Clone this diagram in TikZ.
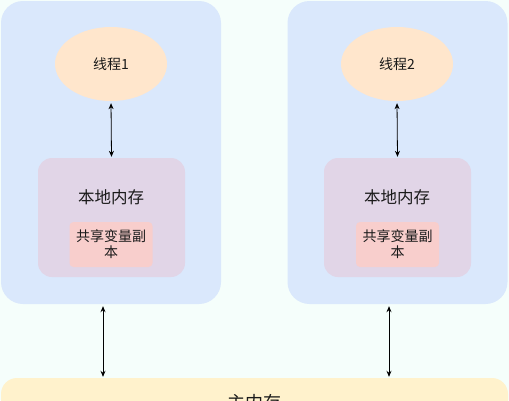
\documentclass[tikz,border=0pt]{standalone}
\usepackage{fontspec}
\setmainfont{Noto Sans CJK SC}
\usetikzlibrary{shapes.geometric,arrows.meta}
\definecolor{bgc}{HTML}{F5FEFB}
\definecolor{outerc}{HTML}{DAE8FC}
\definecolor{threadc}{HTML}{FFE6CC}
\definecolor{localc}{HTML}{E1D5E7}
\definecolor{sharec}{HTML}{F8CECC}
\definecolor{memc}{HTML}{FFF2CC}
\definecolor{txtc}{HTML}{1A1A1A}
\tikzset{
  outerbox/.style={draw=none,fill=outerc,rounded corners=22pt,minimum width=220pt,minimum height=303pt,inner sep=0pt},
  threadnode/.style={ellipse,draw=none,fill=threadc,minimum width=112pt,minimum height=74pt,inner sep=0pt,font=\fontsize{14pt}{17pt}\selectfont,text=txtc},
  localbox/.style={draw=none,fill=localc,rounded corners=14pt,minimum width=147pt,minimum height=119pt,inner sep=0pt},
  localtxt/.style={font=\fontsize{16.5pt}{20pt}\selectfont,text=txtc,inner sep=0pt},
  sharebox/.style={draw=none,fill=sharec,rounded corners=4pt,minimum width=83pt,minimum height=45pt,inner sep=0pt,align=center,font=\fontsize{14pt}{17pt}\selectfont,text=txtc},
  membox/.style={draw=none,fill=memc,rounded corners=16pt,minimum width=507pt,minimum height=50pt,inner sep=0pt,font=\fontsize{18pt}{21pt}\selectfont,text=txtc},
  dbl/.style={{Stealth[length=6pt,width=5pt]}-{Stealth[length=6pt,width=5pt]},line width=0.8pt,black}
}
\begin{document}
\begin{tikzpicture}[x=1pt,y=-1pt]
\useasboundingbox (0,0) rectangle (509,400);
\clip (0,0) rectangle (509,400);
\fill[bgc] (0,0) rectangle (509,400);
% outer boxes
\node[outerbox] (outer1) at (111,152.5) {};
\node[outerbox] (outer2) at (397.5,152.5) {};
% threads
\node[threadnode] (th1) at (111,64) {线程1};
\node[threadnode] (th2) at (397,64) {线程2};
% local memories
\node[localbox] (loc1) at (111.5,217.5) {};
\node[localbox] (loc2) at (397.5,217.5) {};
\node[localtxt] (lt1) at (111,197) {本地内存};
\node[localtxt] (lt2) at (397,197) {本地内存};
\node[sharebox] (sh1) at (111,244.5) {共享变量副\\[-1pt]本};
\node[sharebox] (sh2) at (397.5,244.5) {共享变量副\\[-1pt]本};
% main memory
\node[membox] (mem) at (254.5,403) {主内存};
% arrows
\draw[dbl,shorten <=2pt,shorten >=1pt] (th1.south) -- (loc1.north);
\draw[dbl,shorten <=2pt,shorten >=1pt] (th2.south) -- (loc2.north);
\draw[dbl,shorten <=2pt,shorten >=1pt] ([xshift=-8pt]outer1.south) -- ([xshift=-8pt]outer1.south |- mem.north);
\draw[dbl,shorten <=2pt,shorten >=1pt] ([xshift=-8.5pt]outer2.south) -- ([xshift=-8.5pt]outer2.south |- mem.north);
\end{tikzpicture}
\end{document}
